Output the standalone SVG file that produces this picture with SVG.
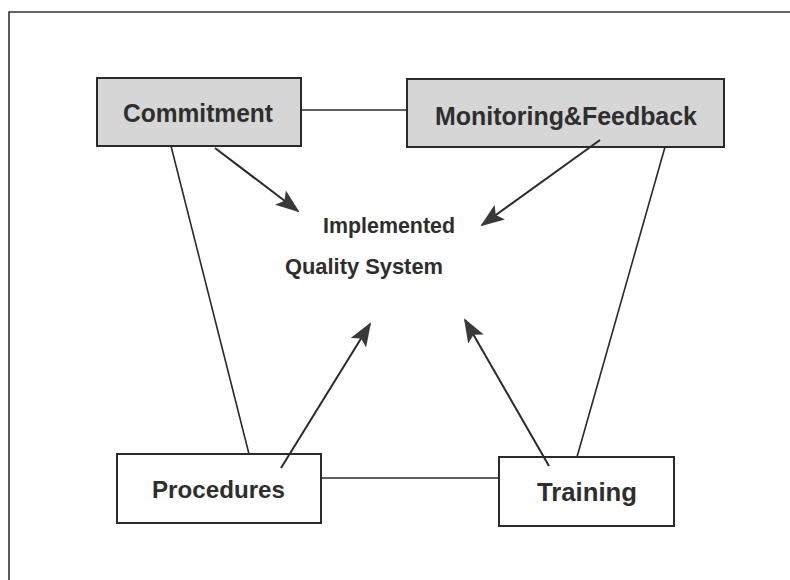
<svg xmlns="http://www.w3.org/2000/svg" width="790" height="580" viewBox="0 0 790 580">
  <defs>
    <marker id="ah" viewBox="0 0 24 18" refX="22" refY="9" markerWidth="24" markerHeight="18" markerUnits="userSpaceOnUse" orient="auto">
      <path d="M0,0 L24,9 L0,18 L5,9 Z" fill="#3a3a3a"/>
    </marker>
  </defs>
  <style>
    .box { stroke: #2a2a2a; stroke-width: 2; }
    .shaded { fill: #d6d6d6; }
    .plain { fill: #ffffff; }
    .lbl { font-family: "Liberation Sans", Arial, sans-serif; font-weight: bold; fill: #2e2e2e; }
    .ln { stroke: #2a2a2a; stroke-width: 1.6; fill: none; }
    .ar { stroke: #2a2a2a; stroke-width: 2; fill: none; marker-end: url(#ah); }
    .frame { stroke: #333; stroke-width: 1.6; fill: none; }
  </style>
  <rect width="790" height="580" fill="#ffffff"/>
  <path class="frame" d="M9,580 L9,12 L790,12"/>

  <g id="commitment">
    <rect class="box shaded" x="97" y="78" width="204" height="68"/>
    <text class="lbl" x="123" y="122" font-size="25" textLength="150" lengthAdjust="spacingAndGlyphs">Commitment</text>
  </g>
  <g id="monitoring">
    <rect class="box shaded" x="407" y="79" width="317" height="68"/>
    <text class="lbl" x="435" y="125" font-size="25" textLength="262" lengthAdjust="spacingAndGlyphs">Monitoring&amp;Feedback</text>
  </g>
  <g id="quality-system">
    <text class="lbl" x="323" y="233" font-size="22" textLength="132" lengthAdjust="spacingAndGlyphs">Implemented</text>
    <text class="lbl" x="285" y="274" font-size="22" textLength="158" lengthAdjust="spacingAndGlyphs">Quality System</text>
  </g>
  <g id="procedures">
    <rect class="box plain" x="117" y="454" width="204" height="69"/>
    <text class="lbl" x="152" y="498" font-size="24" textLength="133" lengthAdjust="spacingAndGlyphs">Procedures</text>
  </g>
  <g id="training">
    <rect class="box plain" x="499" y="457" width="175" height="69"/>
    <text class="lbl" x="537" y="501" font-size="25" textLength="100" lengthAdjust="spacingAndGlyphs">Training</text>
  </g>

  <g id="connectors">
    <line class="ln" x1="301" y1="110" x2="407" y2="110"/>
    <line class="ln" x1="321" y1="478" x2="499" y2="478"/>
    <line class="ln" x1="171" y1="146" x2="249" y2="454"/>
    <line class="ln" x1="665" y1="147" x2="577" y2="457"/>
    <line class="ar" x1="215" y1="148" x2="298" y2="211"/>
    <line class="ar" x1="600" y1="140" x2="482" y2="225"/>
    <line class="ar" x1="281" y1="468" x2="370" y2="324"/>
    <line class="ar" x1="549" y1="466" x2="465" y2="320"/>
  </g>
</svg>
